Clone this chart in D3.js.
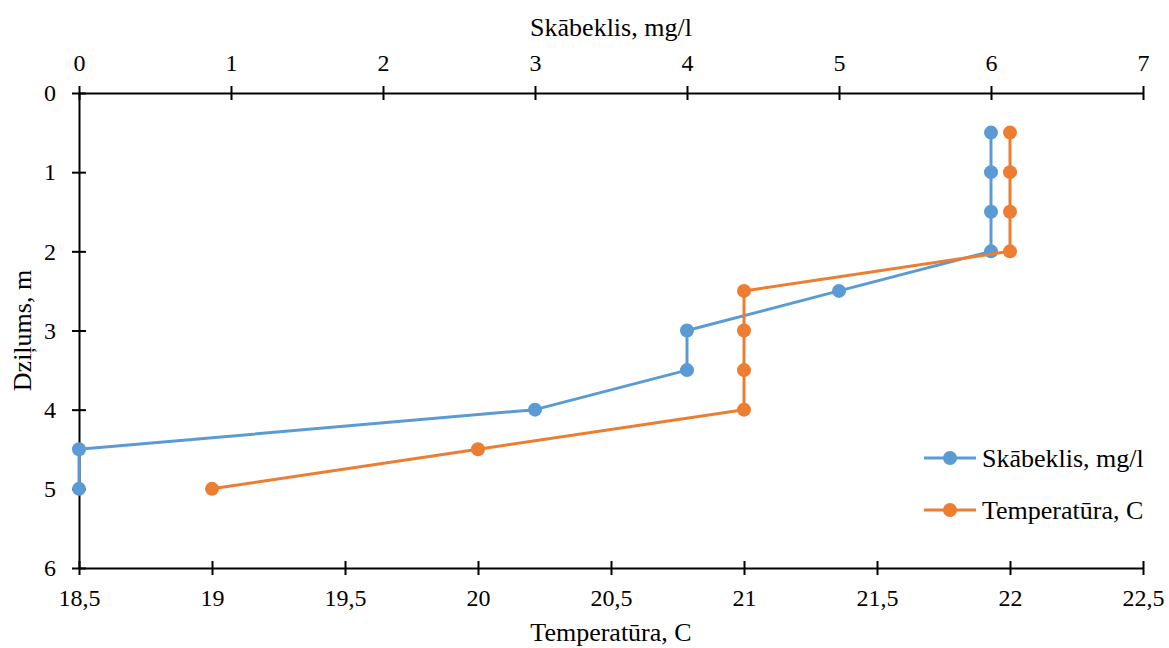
<!DOCTYPE html>
<html>
<head>
<meta charset="utf-8">
<script src="https://cdn.jsdelivr.net/npm/d3@7"></script>
<style>
  body { margin: 0; background: #fff; }
  svg text { font-family: "Times New Roman", "Liberation Serif", Tinos, serif; fill: #000; }
</style>
</head>
<body>
<svg id="chart" width="1169" height="648"></svg>
<script>
// data
const depth = [0.5, 1, 1.5, 2, 2.5, 3, 3.5, 4, 4.5, 5];
const oxygen = [6, 6, 6, 6, 5, 4, 4, 3, 0, 0];
const temperature = [22, 22, 22, 22, 21, 21, 21, 21, 20, 19];
const oxygenTicks = [0, 1, 2, 3, 4, 5, 6, 7];
const tempTicks = [18.5, 19, 19.5, 20, 20.5, 21, 21.5, 22, 22.5];
const depthTicks = [0, 1, 2, 3, 4, 5, 6];

const svg = d3.select("#chart");
const plotLeft = 79, plotRight = 1143, plotTop = 93, plotBottom = 568;

const xTop = d3.scaleLinear().domain([0, 7]).range([plotLeft, plotRight]);
const xBottom = d3.scaleLinear().domain([18.5, 22.5]).range([plotLeft, plotRight]);
const yScale = d3.scaleLinear().domain([0, 6]).range([plotTop, plotBottom]);

const fmt = d => String(d).replace(".", ",");

// axes
const axTop = svg.append("g").attr("transform", `translate(0,${plotTop})`)
  .call(d3.axisTop(xTop).tickValues(oxygenTicks).tickFormat(fmt).tickSizeOuter(0).tickSizeInner(7).tickPadding(15));
const axBottom = svg.append("g").attr("transform", `translate(0,${plotBottom})`)
  .call(d3.axisBottom(xBottom).tickValues(tempTicks).tickFormat(fmt).tickSizeOuter(0).tickSizeInner(7).tickPadding(14));
const axLeft = svg.append("g").attr("transform", `translate(${plotLeft},0)`)
  .call(d3.axisLeft(yScale).tickValues(depthTicks).tickFormat(fmt).tickSizeOuter(0).tickSizeInner(7).tickPadding(16));

[axTop, axBottom, axLeft].forEach(ax => {
  ax.attr("font-family", null).attr("font-size", null);
  ax.select(".domain").attr("stroke", "#000").attr("stroke-width", 2);
  ax.selectAll(".tick line").attr("stroke", "#000").attr("stroke-width", 2);
  ax.selectAll(".tick text").style("font-size", "24px");
});
// ticks cross the axis line
axTop.selectAll(".tick line").attr("y1", 7);
axBottom.selectAll(".tick line").attr("y1", -7);
axLeft.selectAll(".tick line").attr("x1", 7);

// axis titles
svg.append("text").attr("x", (plotLeft + plotRight) / 2).attr("y", 36)
  .attr("text-anchor", "middle").style("font-size", "26px").text("Skābeklis, mg/l");
svg.append("text").attr("x", (plotLeft + plotRight) / 2).attr("y", 641)
  .attr("text-anchor", "middle").style("font-size", "26px").text("Temperatūra, C");
svg.append("text").attr("transform", `translate(31,${(plotTop + plotBottom) / 2}) rotate(-90)`)
  .attr("text-anchor", "middle").style("font-size", "26px").text("Dziļums, m");

// series
const series = [
  { name: "Skābeklis, mg/l", color: "#5B9BD5", x: xTop, values: oxygen },
  { name: "Temperatūra, C", color: "#ED7D31", x: xBottom, values: temperature }
];

series.forEach(s => {
  const pts = depth.map((d, i) => [s.x(s.values[i]), yScale(d)]);
  svg.append("path").attr("d", d3.line()(pts))
    .attr("fill", "none").attr("stroke", s.color).attr("stroke-width", 3).attr("stroke-linejoin", "round");
  svg.selectAll(null).data(pts).enter().append("circle")
    .attr("cx", d => d[0]).attr("cy", d => d[1]).attr("r", 7).attr("fill", s.color);
});

// legend
const legend = svg.append("g").attr("transform", "translate(924,458)");
series.forEach((s, i) => {
  const g = legend.append("g").attr("transform", `translate(0,${i * 52})`);
  g.append("line").attr("x1", 0).attr("x2", 52).attr("stroke", s.color).attr("stroke-width", 3);
  g.append("circle").attr("cx", 26).attr("r", 7).attr("fill", s.color);
  g.append("text").attr("x", 58).attr("y", 9).style("font-size", "26px").text(s.name);
});
</script>
</body>
</html>
